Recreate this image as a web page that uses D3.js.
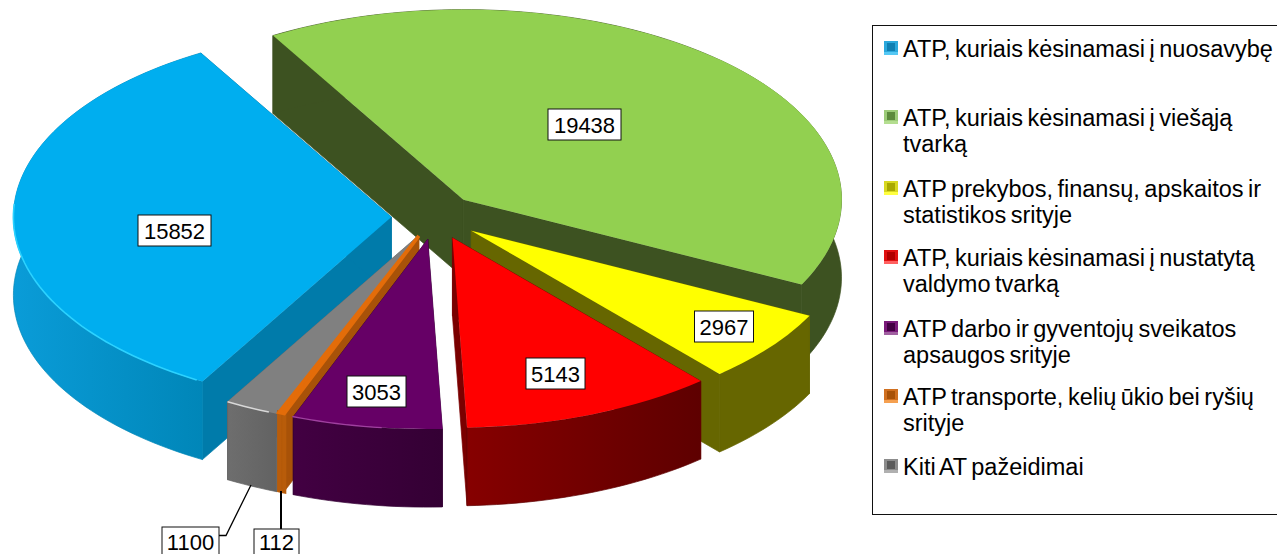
<!DOCTYPE html>
<html><head><meta charset="utf-8">
<script src="https://cdnjs.cloudflare.com/ajax/libs/d3/7.8.5/d3.min.js"></script>
<style>html,body{margin:0;padding:0;background:#fff;overflow:hidden}svg{display:block}</style>
</head><body>
<script>
// ---- data ----
const categories = [
  "ATP, kuriais kėsinamasi į nuosavybę",
  "ATP, kuriais kėsinamasi į viešąją tvarką",
  "ATP prekybos, finansų, apskaitos ir statistikos srityje",
  "ATP, kuriais kėsinamasi į nustatytą valdymo tvarką",
  "ATP darbo ir gyventojų sveikatos apsaugos srityje",
  "ATP transporte, kelių ūkio bei ryšių srityje",
  "Kiti AT pažeidimai"
];
const values = [15852, 19438, 2967, 5143, 3053, 112, 1100];

// ---- styling / layout, kept apart from the data ----
const legendLines = [
  ["ATP, kuriais kėsinamasi į nuosavybę"],
  ["ATP, kuriais kėsinamasi į viešąją", "tvarką"],
  ["ATP prekybos, finansų, apskaitos ir", "statistikos srityje"],
  ["ATP, kuriais kėsinamasi į nustatytą", "valdymo tvarką"],
  ["ATP darbo ir gyventojų sveikatos", "apsaugos srityje"],
  ["ATP transporte, kelių ūkio bei ryšių", "srityje"],
  ["Kiti AT pažeidimai"]
];
const legendBaseline = [57, 126, 197, 266, 337, 405, 475];
const topColors  = ["#00AEEF", "#92D050", "#FFFF00", "#FF0000", "#660066", "#E36C09", "#808080"];
const wallLeft   = ["#0A9CD8", "#3D5221", "#666600", "#860000", "#420042", "#B85C0A", "#6E6E6E"];
const wallRight  = ["#0086B8", "#3D5221", "#666600", "#5E0000", "#340034", "#B05808", "#626262"];
const cutColors  = ["#007BAA", "#3D5221", "#666600", "#7A0000", "#330033", "#A85208", "#6E6E6E"];
const keyDark    = ["#0F7FB2", "#5C8A3C", "#A8A800", "#B00000", "#430043", "#A85208", "#5A5A5A"];
const keyMid     = ["#2BA8DC", "#9CCB78", "#D8D820", "#E01010", "#7A1A7A", "#D07020", "#8C8C8C"];
const keyLight   = ["#55C8F4", "#B4DE90", "#FFFF40", "#FF6060", "#A060A0", "#F5A050", "#B0B0B0"];
const labelAt    = [[174.5,230.5],[584.5,124.5],[724,326.5],[555.5,373.5],[376.5,391.5]];
const sliceNudge = [[0,0],[-3,-1],[0,0],[0,0],[-1,0],[-1,-2],[0,0]];
const paintOrder = [1, 0, 2, 3, 6, 5, 4];

const W = 1277, H = 554;
const cx = 436, cy = 217, explode = 0.118, depth = 78;
const rx = 378, ry = 190;
const deg = Math.PI / 180, startDeg = 210;

const svg = d3.select("body").append("svg").attr("width", W).attr("height", H)
  .style("font-family", "'Liberation Sans', Arial, sans-serif");
const defs = svg.append("defs");

const sx = d3.scaleLinear().domain([-1, 1]).range([-rx, rx]);
const sy = d3.scaleLinear().domain([-1, 1]).range([-ry, ry]);

const slices = d3.pie().sort(null).value(d => d)
  .startAngle(startDeg * deg).endAngle((startDeg + 360) * deg)(values);

const unitArc = d3.arc().innerRadius(0).outerRadius(1);
const line = d3.line();
const ux = a => Math.sin(a), uy = a => -Math.cos(a);

slices.forEach((s, i) => {
  const mid = (s.startAngle + s.endAngle) / 2;
  s.ox = cx + sx(ux(mid) * explode) + sliceNudge[i][0];
  s.oy = cy + sy(uy(mid) * explode) + sliceNudge[i][1];
  const g = defs.append("linearGradient").attr("id", "wall" + i)
    .attr("gradientUnits", "userSpaceOnUse");
  const xs = [s.ox + sx(ux(s.startAngle)), s.ox + sx(ux(s.endAngle))];
  g.attr("x1", i === 0 ? 12 : d3.min(xs)).attr("x2", i === 0 ? 204 : d3.max(xs)).attr("y1", 0).attr("y2", 0);
  g.append("stop").attr("offset", 0).attr("stop-color", wallLeft[i]);
  g.append("stop").attr("offset", 1).attr("stop-color", wallRight[i]);
});

function arcPoints(s, a0, a1) {
  const n = Math.max(2, Math.ceil(Math.abs(a1 - a0) / (deg * 1.5)));
  return d3.range(n + 1).map(k => {
    const a = a0 + (a1 - a0) * k / n;
    return [s.ox + sx(ux(a)), s.oy + sy(uy(a))];
  });
}
function drop(pts) { return pts.map(p => [p[0], p[1] + depth]); }

const pie = svg.append("g");
paintOrder.forEach(i => {
  const s = slices[i];
  const g = pie.append("g");
  const apex = [s.ox, s.oy];
  [s.startAngle, s.endAngle].forEach(a => {
    const e = [s.ox + sx(ux(a)), s.oy + sy(uy(a))];
    g.append("path").attr("fill", cutColors[i]).attr("stroke", cutColors[i]).attr("stroke-width", 0.7)
      .attr("d", line([apex, e, [e[0], e[1] + depth], [apex[0], apex[1] + depth]]) + "Z");
  });
  const top = arcPoints(s, s.startAngle, s.endAngle);
  g.append("path").attr("fill", `url(#wall${i})`)
    .attr("stroke", i === 5 ? wallLeft[i] : wallRight[i]).attr("stroke-width", i === 5 ? 4 : 0.7)
    .attr("d", line(top.concat(drop(top).reverse())) + "Z");
  g.append("path").attr("fill", topColors[i])
    .attr("stroke", i === 5 ? topColors[i] : "none").attr("stroke-width", i === 5 ? 3.5 : 0)
    .attr("transform", `translate(${s.ox},${s.oy}) scale(${rx},${ry})`)
    .attr("vector-effect", "non-scaling-stroke")
    .attr("d", unitArc(s));
});

// bevel glints along the front rim of the top faces
const rims = [
  {i: 0, a0: 211, a1: 274, c: "#2CD2FF", w: 1.6},
  {i: 4, a0: 187, a1: 201, c: "#A040A0", w: 1.3},
  {i: 6, a0: 203, a1: 210, c: "#D8D8D8", w: 1.5}
];
rims.forEach(r => {
  pie.append("path").attr("fill", "none").attr("stroke", r.c).attr("stroke-width", r.w)
    .attr("d", line(arcPoints(slices[r.i], r.a0 * deg, r.a1 * deg)));
});

// value labels
function valueLabel(text, x, y, w, base) {
  const h = 31;
  svg.append("rect").attr("x", x - w / 2).attr("y", y - h / 2).attr("width", w).attr("height", h)
    .attr("fill", "#fff").attr("stroke", "#111").attr("stroke-width", 1);
  svg.append("text").attr("x", x).attr("y", base === undefined ? y + 8 : base).attr("text-anchor", "middle")
    .attr("font-size", 22).attr("fill", "#000").text(text);
}
labelAt.forEach((p, i) => {
  const t = String(values[i]);
  valueLabel(t, p[0], p[1], t.length === 5 ? 73 : 59);
});

// leader lines
svg.append("path").attr("fill", "none").attr("stroke", "#000").attr("stroke-width", 1.3)
  .attr("d", line([[219, 535.5], [226, 535.5], [251, 485]]));
svg.append("path").attr("fill", "none").attr("stroke", "#000").attr("stroke-width", 2)
  .attr("d", line([[281, 491], [281, 529]]));
valueLabel(String(values[6]), 190.5, 542.5, 57, 549.5);
valueLabel(String(values[5]), 276.5, 544.5, 45, 549.5);

// legend
svg.append("rect").attr("x", 872.5).attr("y", 25.5).attr("width", 410).attr("height", 489)
  .attr("fill", "#fff").attr("stroke", "#111").attr("stroke-width", 1);
const leg = svg.selectAll("g.leg").data(categories).join("g").attr("class", "leg");
leg.each(function(d, i) {
  const g = d3.select(this), y0 = legendBaseline[i] - 16;
  g.append("rect").attr("x", 884).attr("y", y0).attr("width", 14).attr("height", 14).attr("fill", keyLight[i]);
  g.append("rect").attr("x", 884).attr("y", y0).attr("width", 14).attr("height", 11).attr("fill", keyMid[i]);
  g.append("rect").attr("x", 887).attr("y", y0 + 2).attr("width", 8).attr("height", 8).attr("fill", keyDark[i]);
  legendLines[i].forEach((t, k) => {
    g.append("text").attr("x", 903).attr("y", legendBaseline[i] + k * 25.5).attr("font-size", 23.5)
      .attr("word-spacing", "-2").attr("fill", "#000").text(t);
  });
});
</script>
</body></html>
